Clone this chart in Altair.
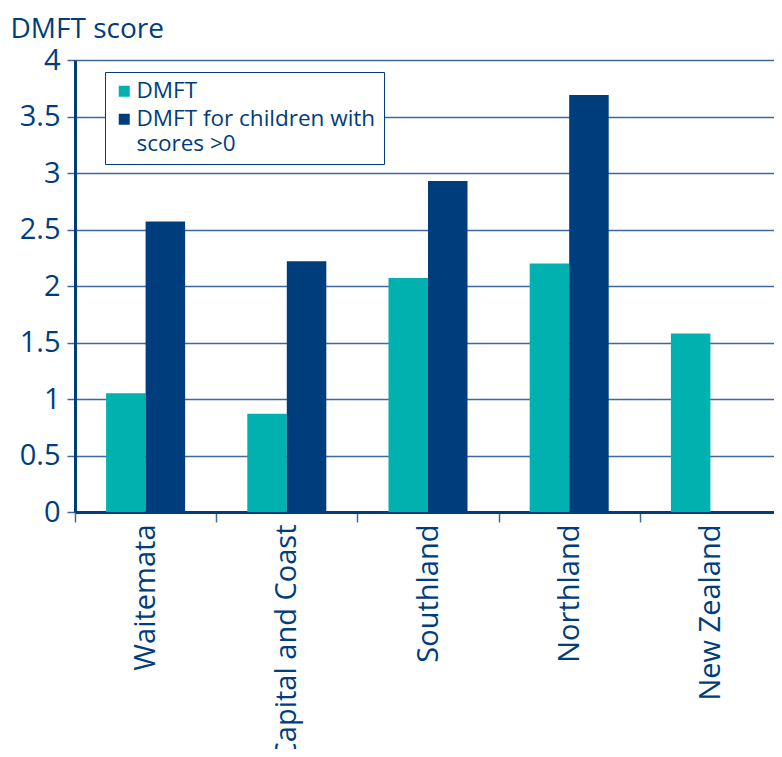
import altair as alt
import pandas as pd

regions = ["Waitemata", "Capital and Coast", "Southland", "Northland", "New Zealand"]
dmft = [1.05, 0.87, 2.07, 2.20, 1.58]
dmft_pos = [2.57, 2.22, 2.93, 3.69, None]
series = ["DMFT", "DMFT for children with scores >0"]
colors = ["#00B1AF", "#003D7C"]
y_ticks = [0, 0.5, 1, 1.5, 2, 2.5, 3, 3.5, 4]

rows = []
for r, a, b in zip(regions, dmft, dmft_pos):
    rows.append({"region": r, "series": series[0], "value": a})
    if b is not None:
        rows.append({"region": r, "series": series[1], "value": b})
df = pd.DataFrame(rows)

navy = "#003D7C"
grid = "#3E68A3"
font = "Open Sans"

chart = alt.Chart(df).mark_bar().encode(
    x=alt.X("region:N", sort=regions,
            scale=alt.Scale(paddingInner=0, paddingOuter=0, range=[0, 706]),
            axis=alt.Axis(title=None, labelAngle=270, labelAlign="right",
                          labelBaseline="middle", labelPadding=2,
                          labelFontSize=29, labelColor=navy, labelFont=font,
                          tickBand="extent", tickSize=10, tickColor=grid,
                          tickWidth=1.5, domainColor=navy, domainWidth=3,
                          grid=False, labelLimit=400)),
    xOffset=alt.XOffset("series:N", sort=series,
                        scale=alt.Scale(paddingInner=0, paddingOuter=0.787)),
    y=alt.Y("value:Q", scale=alt.Scale(domain=[0, 4], nice=False),
            axis=alt.Axis(values=y_ticks, format="~g", title="DMFT score",
                          titleAngle=0, titleX=-65, titleY=-23,
                          titleAlign="left", titleBaseline="alphabetic",
                          titleFontSize=28, titleFontWeight="normal",
                          titleColor=navy, titleFont=font,
                          labelFontSize=29, labelColor=navy, labelFont=font,
                          labelPadding=7, tickSize=8, tickColor=grid,
                          tickWidth=1.5, domainColor=navy, domainWidth=3,
                          gridColor=grid, gridWidth=1.5)),
    color=alt.Color("series:N", sort=series,
                    scale=alt.Scale(domain=series, range=colors),
                    legend=alt.Legend(title=None, orient="none",
                                      legendX=30, legendY=12,
                                      symbolType="square", symbolSize=121,
                                      symbolStrokeWidth=0,
                                      labelFontSize=22.5, labelColor=navy,
                                      labelFont=font, labelOffset=1,
                                      labelLimit=400,
                                      labelExpr="datum.label == 'DMFT for children with scores >0' ? ['DMFT for children with', 'scores >0'] : datum.label",
                                      strokeColor=navy, fillColor="white",
                                      padding=8, rowPadding=5)),
).properties(
    width=699, height=452,
    autosize=alt.AutoSizeParams(type="none"),
    padding={"left": 67, "top": 52, "right": 0, "bottom": 237},
).configure_view(stroke=None).configure(background="white")

chart.save("out.html", embed_options={"renderer": "svg", "actions": False})
